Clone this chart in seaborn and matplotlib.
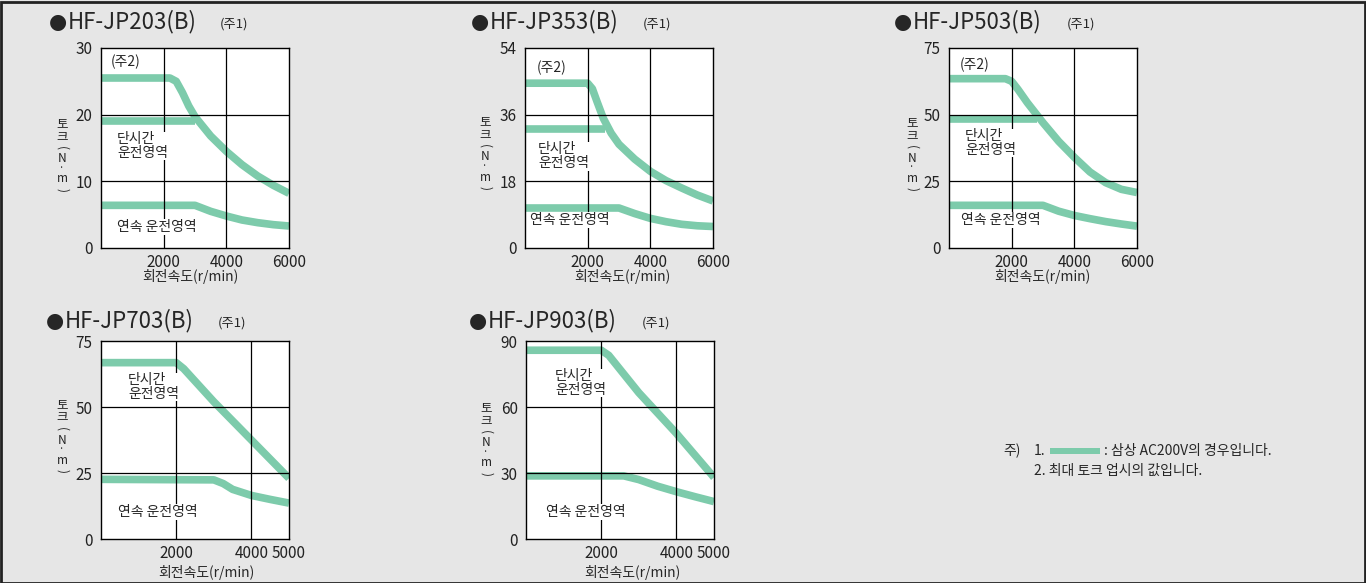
import matplotlib
matplotlib.use("Agg")
import matplotlib.pyplot as plt
import seaborn as sns
from matplotlib.patches import Rectangle

# =====================================
# Data
# =====================================

models = ["HF-JP203(B)", "HF-JP353(B)", "HF-JP503(B)", "HF-JP703(B)", "HF-JP903(B)"]
y_max = [30, 54, 75, 75, 90]
x_max = [6000, 6000, 6000, 5000, 5000]
y_ticks = [[0, 10, 20, 30], [0, 18, 36, 54], [0, 25, 50, 75], [0, 25, 50, 75], [0, 30, 60, 90]]
x_ticks = [[2000, 4000, 6000], [2000, 4000, 6000], [2000, 4000, 6000],
           [2000, 4000, 5000], [2000, 4000, 5000]]

# (주2) peak torque curves
peak_speed_203 = [0, 2200, 2400, 2600, 2800, 3000, 3500, 4000, 4500, 5000, 5500, 6000]
peak_torque_203 = [25.5, 25.5, 25.0, 23.3, 21.3, 19.7, 16.8, 14.5, 12.5, 10.8, 9.4, 8.2]
peak_speed_353 = [0, 2000, 2150, 2300, 2500, 2750, 3000, 3500, 4000, 4500, 5000, 5500, 6000]
peak_torque_353 = [44.5, 44.5, 43.0, 39.5, 35.0, 31.0, 28.0, 24.0, 20.7, 18.2, 16.2, 14.3, 12.7]
peak_speed_503 = [0, 1800, 2000, 2200, 2500, 2800, 3000, 3500, 4000, 4500, 5000, 5500, 6000]
peak_torque_503 = [63.5, 63.5, 62.5, 59.5, 54.5, 50.0, 47.0, 40.0, 34.0, 28.5, 24.5, 22.0, 20.8]

# short-time operation
short_speed_203 = [0, 3000]
short_torque_203 = [19, 19]
short_speed_353 = [0, 2550]
short_torque_353 = [32, 32]
short_speed_503 = [0, 2800]
short_torque_503 = [48.4, 48.4]
short_speed_703 = [0, 2000, 2200, 3000, 4000, 5000]
short_torque_703 = [66.8, 66.8, 64.5, 52.0, 37.5, 23.0]
short_speed_903 = [0, 2000, 2200, 3000, 4000, 5000]
short_torque_903 = [85.8, 85.8, 83.5, 66.5, 48.0, 28.0]

# continuous operation
cont_speed_203 = [0, 3000, 3500, 4000, 4500, 5000, 5500, 6000]
cont_torque_203 = [6.4, 6.4, 5.5, 4.8, 4.2, 3.8, 3.5, 3.3]
cont_speed_353 = [0, 3000, 3500, 4000, 4500, 5000, 5500, 6000]
cont_torque_353 = [10.8, 10.8, 9.3, 8.0, 7.1, 6.4, 6.0, 5.8]
cont_speed_503 = [0, 3000, 3500, 4000, 4500, 5000, 5500, 6000]
cont_torque_503 = [16.0, 16.0, 13.8, 12.2, 11.0, 9.9, 9.0, 8.2]
cont_speed_703 = [0, 3000, 3250, 3500, 4000, 4500, 5000]
cont_torque_703 = [22.6, 22.4, 21.0, 18.8, 16.5, 15.0, 13.6]
cont_speed_903 = [0, 2600, 3000, 3500, 4000, 4500, 5000]
cont_torque_903 = [28.7, 28.7, 27.0, 24.0, 21.5, 19.2, 17.0]

peak_curves = [(peak_speed_203, peak_torque_203), (peak_speed_353, peak_torque_353),
               (peak_speed_503, peak_torque_503), None, None]
short_curves = [(short_speed_203, short_torque_203), (short_speed_353, short_torque_353),
                (short_speed_503, short_torque_503), (short_speed_703, short_torque_703),
                (short_speed_903, short_torque_903)]
cont_curves = [(cont_speed_203, cont_torque_203), (cont_speed_353, cont_torque_353),
               (cont_speed_503, cont_torque_503), (cont_speed_703, cont_torque_703),
               (cont_speed_903, cont_torque_903)]

# =====================================
# Layout (pixel boxes: left, top, right, bottom)
# =====================================

W, H = 1366, 583
BG = "#e6e6e6"
GREEN = "#7dcbab"

boxes = [(101, 48, 289, 248), (525, 48, 713, 248), (949, 48, 1137, 248),
         (101, 341, 289, 539), (526, 341, 714, 539)]
title_pos = [(50, 22, 220), (472, 22, 643), (895, 22, 1067), (47, 321, 218), (470, 321, 642)]
ylabel_pos = [(62, 156), (485, 154), (912, 155), (62, 437), (486, 440)]
xlabel_pos = [(190, 277), (622, 277), (1042, 277), (206, 572), (632, 572)]

# vertical y label: characters, offsets (px) from the label centre, sizes
ylabel_chars = ["토", "크", "(", "N", "·", "m", ")"]
ylabel_offsets = [-32, -19, -8, 3, 12, 23, 34]
ylabel_rot = [0, 0, -90, 0, 0, 0, -90]
ylabel_size = [9, 9, 8.5, 8.5, 7, 8.5, 8.5]

# label positions in data coords
note2_pos = [(320, 27.9), (383, 48.6), (350, 68.6), None, None]
short_lab = [(510, 15.3), (415, 24.8), (510, 39.4), (718, 57.6), (771, 70.9)]
cont_lab = [(510, 3.15), (160, 7.56), (383, 10.5), (452, 10.2), (532, 12.3)]

sns.set_style("white")
plt.rcParams["font.family"] = ["Noto Sans CJK KR", "DejaVu Sans"]


def fx(x):
    return x / W


def fy(y):
    return 1 - y / H


fig = plt.figure(figsize=(W / 100, H / 100), dpi=100)
fig.patch.set_facecolor(BG)
fig.add_artist(Rectangle((0.001, 0.0), 0.998, 0.997, transform=fig.transFigure,
                         fill=False, edgecolor="#222222", linewidth=2))

for i in range(5):
    l, t, r, b = boxes[i]
    ax = fig.add_axes([fx(l), fy(b), (r - l) / W, (b - t) / H])
    ax.set_facecolor("white")

    for curve in [peak_curves[i], short_curves[i], cont_curves[i]]:
        if curve is None:
            continue
        sns.lineplot(x=curve[0], y=curve[1], ax=ax, color=GREEN, linewidth=5.5,
                     solid_capstyle="butt", solid_joinstyle="round", zorder=2)

    ax.set_xlim(0, x_max[i])
    ax.set_ylim(0, y_max[i])

    # grid lines
    for gx in [2000, 4000]:
        ax.axvline(gx, color="black", linewidth=0.9, zorder=3)
    for gy in y_ticks[i][1:-1]:
        ax.axhline(gy, color="black", linewidth=0.9, zorder=3)

    ax.set_xticks(x_ticks[i])
    ax.set_yticks(y_ticks[i])
    ax.tick_params(axis="both", length=0, labelsize=11, colors="#222222")
    ax.tick_params(axis="x", pad=4)
    ax.tick_params(axis="y", pad=6)
    for s in ax.spines.values():
        s.set_color("black")
        s.set_linewidth(1.0)

    if note2_pos[i] is not None:
        ax.text(note2_pos[i][0], note2_pos[i][1], "(주2)", fontsize=10,
                ha="left", va="center", zorder=5)
    ax.text(short_lab[i][0], short_lab[i][1], "단시간\n운전영역", fontsize=10,
            ha="left", va="center", linespacing=0.95, zorder=5,
            bbox=dict(facecolor="white", edgecolor="none", pad=0.5))
    ax.text(cont_lab[i][0], cont_lab[i][1], "연속 운전영역", fontsize=10,
            ha="left", va="center", zorder=5,
            bbox=dict(facecolor="white", edgecolor="none", pad=0.5))

    # titles
    tx, ty, nx = title_pos[i]
    fig.text(fx(tx - 1), fy(ty), "●", fontsize=15, ha="left", va="center",
             family="DejaVu Sans")
    fig.text(fx(tx + 18), fy(ty), models[i], fontsize=16, ha="left", va="center")
    fig.text(fx(nx), fy(ty + 2), "(주1)", fontsize=9.5, ha="left", va="center")

    # vertical y label, one character at a time
    lx, ly = ylabel_pos[i]
    for ch, off, rot, sz in zip(ylabel_chars, ylabel_offsets, ylabel_rot, ylabel_size):
        fig.text(fx(lx), fy(ly + off), ch, fontsize=sz, ha="center", va="center",
                 rotation=rot, color="#222222")

    xx, xy = xlabel_pos[i]
    fig.text(fx(xx), fy(xy), "회전속도(r/min)", fontsize=10, ha="center", va="center")

# =====================================
# Notes
# =====================================

fig.text(fx(1003), fy(451), "주)", fontsize=10, ha="left", va="center")
fig.text(fx(1034), fy(451), "1.", fontsize=10, ha="left", va="center")
fig.add_artist(Rectangle((fx(1050), fy(454)), 50 / W, 6 / H, transform=fig.transFigure,
                         facecolor=GREEN, edgecolor="none"))
fig.text(fx(1104), fy(451), ": 삼상 AC200V의 경우입니다.", fontsize=10, ha="left", va="center")
fig.text(fx(1034), fy(471), "2. 최대 토크 업시의 값입니다.", fontsize=10, ha="left", va="center")

plt.savefig("out.png", dpi=100, facecolor=fig.get_facecolor())
